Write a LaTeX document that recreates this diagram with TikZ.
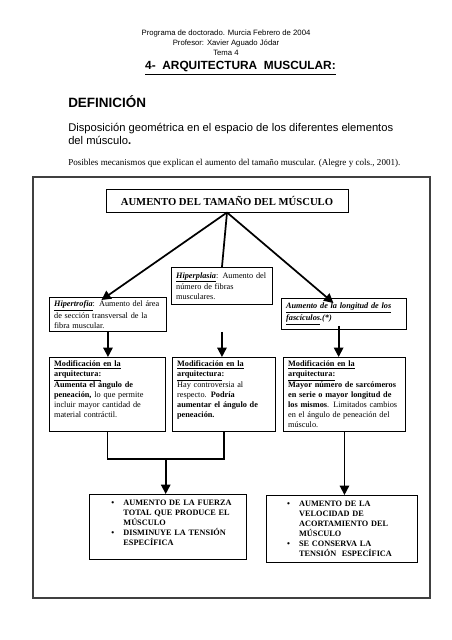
\documentclass[tikz,border=0pt]{standalone}
\usepackage{fontspec}
\setmainfont{Liberation Serif}
\setsansfont{Liberation Sans}
\usetikzlibrary{arrows.meta,calc}

\begin{document}
\begin{tikzpicture}[x=0.75pt,y=0.75pt,yscale=-1,xscale=1,
  frm/.style={draw=black!75,line width=1.1pt},
  txtbox/.style={draw,line width=0.7pt,anchor=north west,align=left,inner xsep=3.5pt,inner ysep=2.5pt,font=\fontsize{6.2}{7.4}\selectfont},
  modbox/.style={txtbox,text depth=46pt},
  resbox/.style={txtbox,inner ysep=3pt,font=\fontsize{6.2}{7.5}\selectfont\bfseries},
  link/.style={line width=1.3pt},
  arr/.style={link,-{Triangle[length=7pt,width=7pt]}}]
\useasboundingbox (0,0) rectangle (452,640);
%Shape: Rectangle
\draw [frm] (33,177) -- (430,177) -- (430,598) -- (33,598) -- cycle;
% Text Node
\draw (226,33) node [font=\sffamily\fontsize{5.8}{7}\selectfont] (hdra) {Programa de doctorado. Murcia Febrero de 2004};
% Text Node
\draw (226,43.5) node [font=\sffamily\fontsize{5.8}{7}\selectfont] (hdrb) {Profesor: Xavier Aguado Jódar};
% Text Node
\draw (226,53) node [font=\sffamily\fontsize{5.8}{7}\selectfont] (hdrc) {Tema 4};
% Text Node
\draw (240.5,68) node [font=\sffamily\bfseries\fontsize{8.9}{10}\selectfont] (titl) {\underline{4-\ \ ARQUITECTURA\ \ MUSCULAR:}};
% Text Node
\draw (68,102) node [anchor=west,inner sep=0pt,font=\sffamily\bfseries\fontsize{10.1}{12}\selectfont] (defi) {DEFINICIÓN};
% Text Node
\draw (68,134) node [anchor=west,inner sep=0pt,align=left,font=\sffamily\fontsize{8.4}{9.75}\selectfont] (disp) {Disposición geométrica en el espacio de los diferentes elementos\\del músculo\textbf{.}};
% Text Node
\draw (68,163) node [anchor=west,inner sep=0pt,font=\fontsize{6.8}{8}\selectfont] (posi) {Posibles mecanismos que explican el aumento del tamaño muscular. (Alegre y cols., 2001).};
% Text Node
\draw (227,200.5) node [draw,line width=0.7pt,minimum width=181.5pt,minimum height=17.25pt,font=\bfseries\fontsize{8}{9}\selectfont] (top) {AUMENTO DEL TAMAÑO DEL MÚSCULO};
% Text Node
\draw (49,297) node [txtbox,text width=80.75pt,minimum height=25.5pt] (hipt) {\underline{\textbf{\textit{Hipertrofia}}}: Aumento del área\\de sección transversal de la\\fibra muscular.};
% Text Node
\draw (171,267) node [txtbox,text width=68.75pt,minimum height=27.75pt] (hipl) {\underline{\textbf{\textit{Hiperplasia}}}: Aumento del\\número de fibras\\musculares.};
% Text Node
\draw (281,298) node [txtbox,text width=86.75pt,minimum height=23.25pt] (long) {\underline{\textbf{\textit{Aumento de la longitud de los}}}\\\underline{\textbf{\textit{fascículos}}}\textbf{\textit{.(*)}}};
% Text Node
\draw (49,357) node [modbox,text width=80pt] (mod1) {\underline{\textbf{Modificación en la}}\\\underline{\textbf{arquitectura:}}\\\textbf{Aumenta el ángulo de}\\\textbf{peneación,} lo que permite\\incluir mayor cantidad de\\material contráctil.};
% Text Node
\draw (172,357) node [modbox,text width=70.25pt] (mod2) {\underline{\textbf{Modificación en la}}\\\underline{\textbf{arquitectura}}\textbf{:}\\Hay controversia al\\respecto. \textbf{Podría}\\\textbf{aumentar el ángulo de}\\\textbf{peneación.}};
% Text Node
\draw (283,357) node [modbox,text width=84.5pt] (mod3) {\underline{\textbf{Modificación en la}}\\\underline{\textbf{arquitectura:}}\\\textbf{Mayor número de sarcómeros}\\\textbf{en serie o mayor longitud de}\\\textbf{los mismos}. Limitados cambios\\en el ángulo de peneación del\\músculo.};
% Text Node
\draw (89,494) node [resbox,text width=110.75pt,text depth=37.5pt] (res1) {\begin{tabular}[t]{@{\hspace{13pt}}p{9pt}@{}l@{}}
\textbullet & AUMENTO DE LA FUERZA\\
 & TOTAL QUE PRODUCE EL\\
 & MÚSCULO\\
\textbullet & DISMINUYE LA TENSIÓN\\
 & ESPECÍFICA
\end{tabular}};
% Text Node
\draw (266,495) node [resbox,text width=106.25pt,text depth=39pt] (res2) {\begin{tabular}[t]{@{\hspace{12pt}}p{9pt}@{}l@{}}
\textbullet & AUMENTO DE LA\\
 & VELOCIDAD DE\\
 & ACORTAMIENTO DEL\\
 & MÚSCULO\\
\textbullet & SE CONSERVA LA\\
 & TENSIÓN\ \ ESPECÍFICA
\end{tabular}};
%Straight Lines
\draw [arr] (top.south) -- ([xshift=-4.9pt,yshift=2.25pt]hipt.north);
\draw [link] (top.south) -- (hipl.north);
\draw [arr] (top.south) -- ([xshift=-7.9pt,yshift=3.75pt]long.north);
%Straight Lines
\draw [arr] (hipt.south) -- (hipt.south |- mod1.north);
\draw [arr] (hipl.south |- hipt.south) -- (hipl.south |- mod2.north);
\draw [arr] ([xshift=-4pt,yshift=-3pt]long.south) -- ([xshift=-4pt]long.south |- mod3.north);
%Straight Lines
\draw [link] (mod1.south) -- ++(0,27) -| (mod2.south);
\coordinate (join) at ($(mod1.south)!0.5!(mod2.south)+(0,27)$);
\draw [arr] (join) -- (join |- res1.north);
\draw [arr] (mod3.south) -- (mod3.south |- res2.north);
\end{tikzpicture}
\end{document}
